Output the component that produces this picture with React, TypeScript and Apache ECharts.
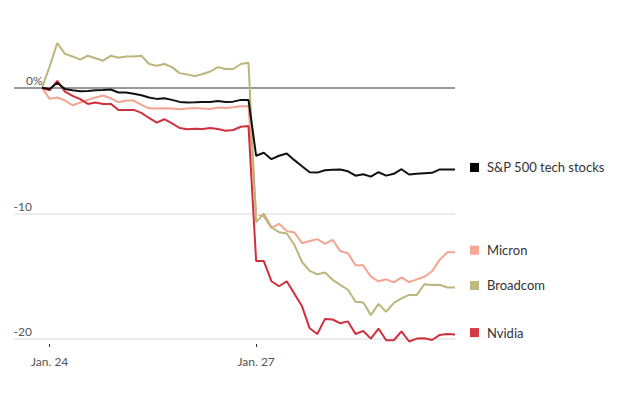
import React, { useEffect, useRef } from "react";
import * as echarts from "echarts";

const seriesNames = ["S&P 500 tech stocks", "Micron", "Broadcom", "Nvidia"];
const seriesColors = ["#111111", "#f4a390", "#bdb57c", "#d0303d"];
const squareColors = ["#000000", "#f5a896", "#bfb883", "#d43a44"];

const sp500Tech = [
  0, -0.1, 0.4, -0.1, -0.2, -0.27, -0.25, -0.2, -0.17, -0.13, -0.37, -0.37, -0.48, -0.59,
  -0.77, -0.88, -0.83, -0.96, -1.12, -1.17, -1.15, -1.12, -1.12, -1.04, -1.12, -1.1, -0.96, -0.96,
  -5.41, -5.17, -5.68, -5.41, -5.23, -5.76, -6.24, -6.72, -6.75, -6.56, -6.53, -6.5, -6.65, -7.0,
  -6.88, -7.07, -6.72, -6.99, -6.85, -6.48, -6.9, -6.85, -6.8, -6.77, -6.5, -6.5, -6.5,
];
const micron = [
  0, -0.88, -0.77, -1.01, -1.39, -1.17, -0.96, -0.77, -0.61, -0.83, -1.15, -1.01, -1.01, -1.36,
  -1.63, -1.65, -1.63, -1.65, -1.71, -1.65, -1.6, -1.65, -1.68, -1.57, -1.6, -1.55, -1.47, -1.47,
  -10.03, -10.24, -11.15, -10.83, -11.41, -11.52, -12.37, -12.2, -12.05, -12.43, -12.1, -13.0, -13.17,
  -14.13, -14.13, -15.04, -15.41, -15.25, -15.49, -15.09, -15.47, -15.25, -15.04, -14.61, -13.7, -13.09, -13.09,
];
const broadcom = [
  0, 1.7, 3.57, 2.7, 2.5, 2.24, 2.56, 2.35, 2.16, 2.56, 2.4, 2.5, 2.5, 2.56,
  1.9, 1.76, 1.9, 1.65, 1.17, 1.07, 0.93, 1.1, 1.3, 1.65, 1.5, 1.5, 1.9, 2.0,
  -10.7, -10.03, -11.1, -11.5, -11.6, -12.5, -13.87, -14.58, -14.85, -14.7, -15.29, -15.69, -16.08,
  -17.04, -17.1, -18.1, -17.2, -17.84, -17.12, -16.77, -16.49, -16.49, -15.64, -15.7, -15.68, -15.9, -15.9,
];
const nvidia = [
  0, -0.2, 0.56, -0.3, -0.64, -0.9, -1.28, -1.17, -1.28, -1.28, -1.76, -1.76, -1.76, -2.0,
  -2.4, -2.77, -2.5, -2.83, -3.2, -3.3, -3.25, -3.28, -3.2, -3.28, -3.41, -3.36, -3.1, -3.04,
  -13.8, -13.8, -15.4, -15.8, -15.4, -16.4, -17.4, -19.15, -19.6, -18.4, -18.45, -18.75, -18.6,
  -19.6, -19.36, -19.97, -19.17, -20.1, -20.1, -19.4, -20.2, -19.97, -19.95, -20.08, -19.68, -19.6, -19.65,
];
const seriesValues = [sp500Tech, micron, broadcom, nvidia];

const xTickIndexes = [1, 28];
const xTickLabels = ["Jan. 24", "Jan. 27"];
const yTickValues = [0, -10, -20];
const yTickLabels = ["0%", "-10", "-20"];

const FONT = "Lato, 'Noto Sans', sans-serif";

export default function App() {
  const ref = useRef<HTMLDivElement>(null);
  useEffect(() => {
    if (!ref.current) return;
    const chart = echarts.init(ref.current, null, { renderer: "svg" });
    const lineSeries = seriesValues.map((vals, si) => ({
      type: "line",
      name: seriesNames[si],
      data: vals.map((v, i) => [i, v]),
      showSymbol: false,
      symbol: "none",
      z: 3 + (si === 0 ? 4 : si),
      lineStyle: { color: seriesColors[si], width: 2 },
      itemStyle: { color: seriesColors[si] },
      endLabel: {
        show: true,
        distance: 15,
        offset: [0, -2],
        formatter: () => "{sq| }{t|" + seriesNames[si] + "}",
        rich: {
          sq: { width: 9, height: 9, backgroundColor: squareColors[si] },
          t: { fontFamily: FONT, fontSize: 13, color: "#333333", padding: [0, 0, 0, 8] },
        },
      },
    }));
    const gridSeries = {
      type: "line",
      data: [[0, 0]],
      symbol: "none",
      lineStyle: { width: 0, opacity: 0 },
      z: 1,
      silent: true,
      markLine: {
        silent: true,
        symbol: ["none", "none"],
        label: { show: false },
        data: yTickValues.map((v) => ({
          yAxis: v,
          lineStyle: {
            type: "solid",
            color: v === 0 ? "#999999" : "#ececec",
            width: 2,
          },
        })),
      },
    };
    chart.setOption({
      animation: false,
      grid: { left: 14, right: 188, top: 37.6, bottom: 55 },
      xAxis: {
        type: "value",
        min: -3.66,
        max: 54,
        axisLine: { show: false, onZero: false },
        splitLine: { show: false },
        axisTick: {
          show: true,
          customValues: xTickIndexes,
          length: 3,
          lineStyle: { color: "#333333", width: 1 },
        },
        axisLabel: {
          customValues: xTickIndexes,
          formatter: (v: number) => xTickLabels[xTickIndexes.indexOf(Math.round(v))] ?? "",
          fontFamily: FONT,
          fontSize: 12,
          color: "#555555",
          margin: 11,
        },
      },
      yAxis: {
        type: "value",
        min: -20.4,
        max: 4,
        axisLine: { show: false },
        axisTick: { show: false },
        axisLabel: { show: false },
        splitLine: { show: false },
      },
      series: [gridSeries, ...lineSeries],
    });
    const labels = yTickValues.map((v, i) => {
      const y = chart.convertToPixel({ yAxisIndex: 0 }, v) as number;
      const isZero = v === 0;
      return {
        type: "text",
        x: isZero ? 26 : 32,
        y: y - 7,
        style: {
          text: yTickLabels[i],
          fontFamily: FONT,
          fontSize: 12,
          fill: "#555555",
          align: isZero ? "left" : "right",
          verticalAlign: "middle",
        },
      };
    });
    chart.setOption({ graphic: labels });
    return () => chart.dispose();
  }, []);
  return <div ref={ref} style={{ width: 643, height: 399, position: "absolute", left: 0, top: 0, background: "#fff" }} />;
}
